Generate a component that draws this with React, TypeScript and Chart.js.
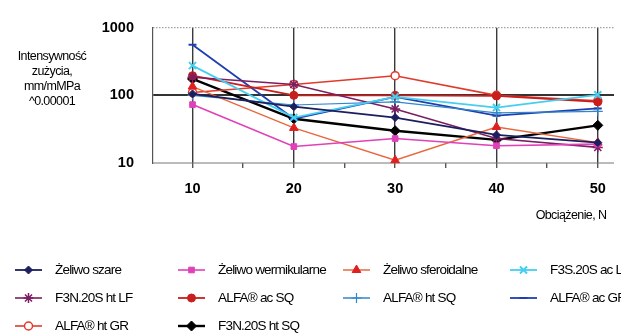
import React, { useEffect, useRef } from "react";
import { Chart, registerables } from "chart.js";
import { drawPoint } from "chart.js/helpers";

Chart.register(...registerables);

const categories = [10, 20, 30, 40, 50];
const xTicks = [10, 15, 20, 25, 30, 35, 40, 45, 50];
const yTicks = [10, 100, 1000];

const zeliwoSzare = [105, 68, 47, 26, 20];
const zeliwoWermikularne = [73, 17.5, 23, 18, 19];
const zeliwoSferoidalne = [135, 33, 11, 34, 20];
const f3sAcLF = [275, 47, 95, 66, 102];
const f3nHtLF = [185, 145, 63, 23, 17];
const alfaAcSQ = [195, 100, 100, 98, 80];
const alfaHtSQ = [100, 72, 80, 55, 58];
const alfaAcGR = [560, 45, 95, 50, 64];
const alfaHtGR = [110, 145, 195, 100, 83];
const f3nHtSQ = [175, 45, 30, 22, 36];

const seriesNames = [
  "Żeliwo szare",
  "Żeliwo wermikularne",
  "Żeliwo sferoidalne",
  "F3S.20S ac LF",
  "F3N.20S ht LF",
  "ALFA® ac SQ",
  "ALFA® ht SQ",
  "ALFA® ac GR",
  "ALFA® ht GR",
  "F3N.20S ht SQ",
];
const seriesValues = [
  zeliwoSzare,
  zeliwoWermikularne,
  zeliwoSferoidalne,
  f3sAcLF,
  f3nHtLF,
  alfaAcSQ,
  alfaHtSQ,
  alfaAcGR,
  alfaHtGR,
  f3nHtSQ,
];

const yTitle = ["Intensywność", "zużycia,", "mm/mMPa", "^0.00001"];
const xTitle = "Obciążenie, N";

const styles = [
  { line: "#1b1f5e", fill: "#1b1f5e", point: "rectRot", r: 4, w: 1.8, pw: 1 },
  { line: "#e040b8", fill: "#e040b8", point: "rect", r: 4, w: 1.6, pw: 1 },
  { line: "#e8683c", fill: "#e02020", point: "triangle", r: 5, w: 1.4, pw: 1 },
  { line: "#44cff0", fill: "#44cff0", point: "crossRot", r: 5, w: 1.8, pw: 2 },
  { line: "#7a1e62", fill: "#7a1e62", point: "star", r: 5, w: 1.6, pw: 1.5 },
  { line: "#c81e1e", fill: "#c81e1e", point: "circle", r: 4, w: 1.8, pw: 1 },
  { line: "#2f88c8", fill: "#2f88c8", point: "cross", r: 5, w: 1.2, pw: 1.2 },
  { line: "#1f3fae", fill: "#1f3fae", point: "line", r: 4, w: 1.8, pw: 2 },
  { line: "#e03a2a", fill: "#ffffff", point: "circle", r: 4, w: 1.6, pw: 1.5 },
  { line: "#000000", fill: "#000000", point: "rectRot", r: 5, w: 2.4, pw: 1 },
];

const FONT = "'Liberation Sans', Arial, sans-serif";

const customText = {
  id: "customText",
  beforeDatasetsDraw(chart: any) {
    const { ctx, chartArea, scales } = chart;
    const y = scales.y;
    ctx.save();
    const yTop = y.getPixelForValue(1000);
    ctx.strokeStyle = "#8a8a8a";
    ctx.lineWidth = 1;
    ctx.setLineDash([1.5, 1.5]);
    ctx.beginPath();
    ctx.moveTo(chartArea.left, yTop);
    ctx.lineTo(chartArea.right, yTop);
    ctx.stroke();
    const yBot = y.getPixelForValue(10);
    ctx.setLineDash([]);
    ctx.strokeStyle = "#777";
    ctx.beginPath();
    ctx.moveTo(chartArea.left, yBot);
    ctx.lineTo(chartArea.right, yBot);
    ctx.stroke();
    ctx.restore();
  },
  afterDraw(chart: any) {
    const { ctx } = chart;
    ctx.save();
    ctx.fillStyle = "#000";
    ctx.textBaseline = "middle";
    ctx.textAlign = "center";
    ctx.font = `12.5px ${FONT}`;
    (ctx as any).letterSpacing = "-0.6px";
    const ty = [57, 72, 87, 102];
    yTitle.forEach((t, i) => ctx.fillText(t, 52, ty[i]));
    ctx.fillText(xTitle, 571, 216);

    const colX = [15, 178, 343, 510];
    const rowY = [270, 298, 326];
    ctx.textAlign = "left";
    ctx.font = `13.5px ${FONT}`;
    (ctx as any).letterSpacing = "-0.8px";
    chart.data.datasets.forEach((ds: any, i: number) => {
      const s = styles[i];
      const x0 = colX[i % 4];
      const yy = rowY[Math.floor(i / 4)];
      ctx.save();
      ctx.strokeStyle = s.line;
      ctx.lineWidth = Math.max(1.5, s.w);
      ctx.beginPath();
      ctx.moveTo(x0, yy);
      ctx.lineTo(x0 + 27, yy);
      ctx.stroke();
      ctx.fillStyle = s.fill;
      ctx.strokeStyle = s.point === "triangle" ? s.fill : s.line;
      ctx.lineWidth = s.pw;
      drawPoint(ctx, { pointStyle: s.point, radius: s.r, borderWidth: s.pw, rotation: 0 } as any, x0 + 13.5, yy);
      ctx.restore();
      ctx.fillStyle = "#000";
      ctx.fillText(ds.label, x0 + 40, yy);
    });
    ctx.restore();
  },
};

export default function App() {
  const ref = useRef<HTMLCanvasElement | null>(null);
  useEffect(() => {
    if (!ref.current) return;
    const datasets = seriesValues.map((vals, i) => {
      const s = styles[i];
      return {
        label: seriesNames[i],
        data: categories.map((c, j) => ({ x: c, y: vals[j] })),
        borderColor: s.line,
        backgroundColor: s.fill,
        borderWidth: s.w,
        pointStyle: s.point,
        pointRadius: s.r,
        pointBorderWidth: s.pw,
        pointBorderColor: s.point === "triangle" ? s.fill : s.line,
        pointBackgroundColor: s.fill,
        tension: 0,
        clip: false as any,
      };
    });
    const chart = new Chart(ref.current, {
      type: "line",
      data: { datasets },
      plugins: [customText],
      options: {
        animation: false,
        responsive: false,
        layout: { padding: { top: 24, right: 0, bottom: 133, left: 0 } },
        plugins: { legend: { display: false }, tooltip: { enabled: false } },
        scales: {
          x: {
            type: "linear",
            min: 6.1,
            max: 51.6,
            afterBuildTicks: (scale: any) => {
              scale.ticks = xTicks.map((v) => ({ value: v }));
            },
            afterFit: (scale: any) => {
              scale.height = 40;
            },
            grid: {
              color: (ctx: any) =>
                ctx.tick && ctx.tick.value % 10 === 0 ? "#3a3a3a" : "rgba(0,0,0,0)",
              lineWidth: 1.4,
              tickColor: "#555",
              tickLength: 5,
              drawTicks: true,
            },
            border: { display: false },
            ticks: {
              color: "#000",
              font: { family: FONT, size: 14.5, weight: "bold" },
              padding: 12,
              autoSkip: false,
              maxRotation: 0,
              callback: (v: any) => (Number(v) % 10 === 0 ? String(v) : ""),
            },
          },
          y: {
            type: "logarithmic",
            min: 10,
            max: 1000,
            afterBuildTicks: (scale: any) => {
              scale.ticks = yTicks.map((v) => ({ value: v }));
            },
            afterFit: (scale: any) => {
              scale.width = 153;
            },
            grid: {
              color: (ctx: any) => (ctx.tick && ctx.tick.value === 100 ? "#333" : "rgba(0,0,0,0)"),
              lineWidth: 2,
              drawTicks: false,
            },
            border: { display: true, color: "#555", width: 1.2 },
            ticks: {
              color: "#000",
              font: { family: FONT, size: 14.5, weight: "bold" },
              padding: 19,
              callback: (v: any) => String(v),
            },
          },
        },
      } as any,
    });
    return () => chart.destroy();
  }, []);
  return (
    <div style={{ position: "absolute", left: 0, top: 0, width: 621, height: 336, background: "#fff" }}>
      <canvas ref={ref} width={621} height={336} style={{ width: 621, height: 336 }} />
    </div>
  );
}
